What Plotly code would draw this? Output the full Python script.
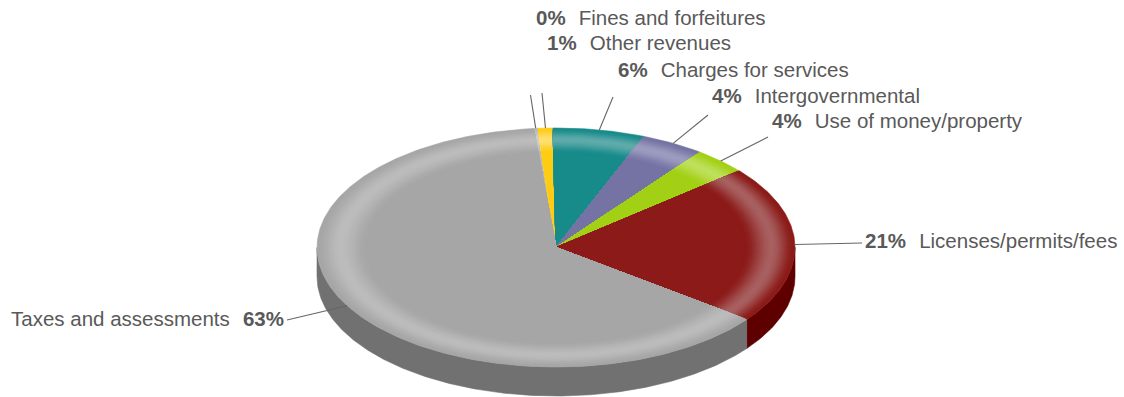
import math
import plotly.graph_objects as go

# Revenue shares, listed clockwise from the start angle
categories = ["Fines and forfeitures", "Other revenues", "Charges for services",
              "Intergovernmental", "Use of money/property",
              "Licenses/permits/fees", "Taxes and assessments"]
shares = [0.3, 1.0, 6.2, 4.3, 3.6, 21.4, 63.2]

face_colors = ["#b9b9b9", "#ffcc14", "#178a8a", "#7473a3", "#a2d014", "#8b1a18", "#a6a6a6"]
glow_colors = ["#d0d0d0", "#ffdf70", "#60abab", "#9d9cc0", "#bfe05c", "#a86060", "#bcbcbc"]
side_colors = ["#808080", "#b08c00", "#0c5f5f", "#4f4e78", "#6f9000", "#5e0000", "#717171"]

# Where each label sits: left edge x, or right edge x for the last one, and middle y
label_x = [535, 546, 617, 711, 771, 864, 285]
label_y = [17, 42, 69, 95, 120, 240, 318]
leader_end_x = [530.5, 542, 613, 708, 768, 862, 287]
leader_end_y = [95, 93, 97, 115, 137, 243, 320]

WIDTH, HEIGHT = 1124, 397
CX, CY, RX, RY, DEPTH = 556, 247.5, 239, 119.5, 29
START_ANGLE = -5.4
BAND_COUNT = 30


def rim_point(angle, radius=1.0):
    """Project a clock angle (degrees, 0 at the top) on to the tilted disc."""
    rad = math.radians(angle)
    return CX + RX * radius * math.sin(rad), CY - RY * radius * math.cos(rad)


def arc(a0, a1, radius=1.0):
    steps = max(2, int(abs(a1 - a0) * 1.5))
    return [rim_point(a0 + (a1 - a0) * i / steps, radius) for i in range(steps + 1)]


def hex_mix(c0, c1, t):
    a = [int(c0[i:i + 2], 16) for i in (1, 3, 5)]
    b = [int(c1[i:i + 2], 16) for i in (1, 3, 5)]
    return "#" + "".join(f"{round(p + (q - p) * t):02x}" for p, q in zip(a, b))


def bevel_color(base, glow, radius):
    """Flat centre, a soft highlight ring, falling back towards the outer edge."""
    inner, peak = 0.79, 0.905
    if radius <= inner:
        return base
    if radius <= peak:
        t = (radius - inner) / (peak - inner)
    else:
        t = 1 - (radius - peak) / (1 - peak)
    return hex_mix(base, glow, t * t * (3 - 2 * t))


def polygon(points, color, name):
    return go.Scatter(x=[p[0] for p in points] + [points[0][0]],
                      y=[p[1] for p in points] + [points[0][1]],
                      mode="lines", fill="toself", fillcolor=color,
                      line=dict(width=0.6, color=color), hoverinfo="skip",
                      name=name, showlegend=False)


total = sum(shares)
edges = [START_ANGLE]
for share in shares:
    edges.append(edges[-1] + share / total * 360)

fig = go.Figure()

# Side wall: only the part of each slice on the near half of the disc shows
for i, name in enumerate(categories):
    a0, a1 = max(edges[i], 90), min(edges[i + 1], 270)
    if a1 <= a0:
        continue
    top = arc(a0, a1)
    bottom = [(x, y + DEPTH) for x, y in reversed(top)]
    fig.add_trace(polygon(top + bottom, side_colors[i], name))

# Top face: nested wedges painted from the rim inwards give the bevel shading
for i, name in enumerate(categories):
    a0, a1 = edges[i], edges[i + 1]
    for b in range(BAND_COUNT + 1):
        radius = 1 - 0.21 * b / BAND_COUNT
        color = bevel_color(face_colors[i], glow_colors[i], radius)
        fig.add_trace(polygon([rim_point(a0, 0)] + arc(a0, a1, radius), color, name))

# Leader lines run from the middle of each slice's rim to its label
for i, name in enumerate(categories):
    x0, y0 = rim_point((edges[i] + edges[i + 1]) / 2)
    fig.add_trace(go.Scatter(x=[x0, leader_end_x[i]], y=[y0, leader_end_y[i]],
                             mode="lines", line=dict(width=1.1, color="#666666"),
                             hoverinfo="skip", showlegend=False))

gap = "&nbsp;&nbsp;\u200a"
annotations = []
for i, name in enumerate(categories):
    pct = f"<b>{round(shares[i])}%</b>"
    last = i == len(categories) - 1
    annotations.append(dict(
        x=label_x[i], y=label_y[i], xref="x", yref="y",
        text=f"{name}{gap}{pct}" if last else f"{pct}{gap}{name}",
        xanchor="right" if last else "left", yanchor="middle",
        showarrow=False, borderpad=0,
        font=dict(family="Liberation Sans, Arial, sans-serif", size=20.5, color="#595959"),
    ))

fig.update_layout(
    width=WIDTH, height=HEIGHT, margin=dict(l=0, r=0, t=0, b=0),
    paper_bgcolor="white", plot_bgcolor="white", showlegend=False,
    xaxis=dict(range=[0, WIDTH], visible=False, fixedrange=True),
    yaxis=dict(range=[HEIGHT, 0], visible=False, fixedrange=True),
    annotations=annotations,
)

fig.write_html("out.html", config={"displayModeBar": False})
